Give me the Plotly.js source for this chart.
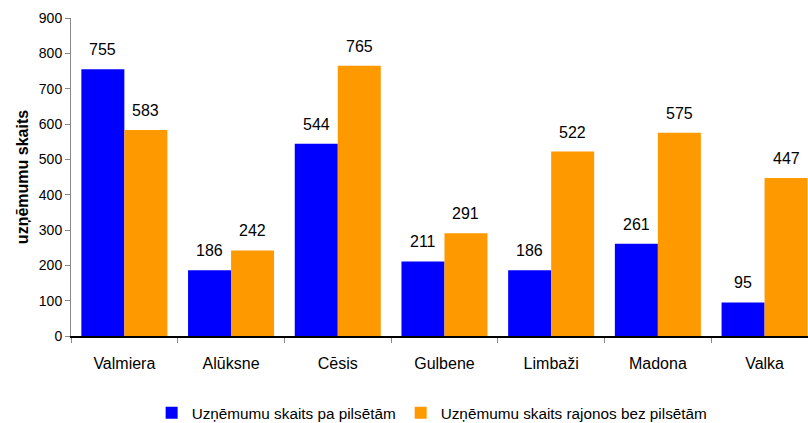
<!DOCTYPE html>
<html>
<head>
<meta charset="utf-8">
<script src="https://cdn.plot.ly/plotly-3.0.1.min.js"></script>
<style>html,body{margin:0;padding:0;background:#fff;}#chart{width:808px;height:423px;}</style>
</head>
<body>
<div id="chart"></div>
<script>
const categories = ["Valmiera", "Alūksne", "Cēsis", "Gulbene", "Limbaži", "Madona", "Valka"];
const cityValues = [755, 186, 544, 211, 186, 261, 95];
const ruralValues = [583, 242, 765, 291, 522, 575, 447];
const seriesNames = ["Uzņēmumu skaits pa pilsētām", "Uzņēmumu skaits rajonos bez pilsētām"];
const yTicks = [0, 100, 200, 300, 400, 500, 600, 700, 800, 900];

const font = "Liberation Sans, Arial, sans-serif";
const barHalf = 21.5;

const traces = [
  {type: "bar", name: seriesNames[0], x: categories, y: cityValues, marker: {color: "#0000FF"}, hoverinfo: "none"},
  {type: "bar", name: seriesNames[1], x: categories, y: ruralValues, marker: {color: "#FF9900"}, hoverinfo: "none"}
];

const annotations = [];
categories.forEach((c, i) => {
  annotations.push({x: c, y: cityValues[i], xref: "x", yref: "y", text: String(cityValues[i]), showarrow: false, xshift: -barHalf, yshift: 9, yanchor: "bottom", font: {family: font, size: 16, color: "#000"}});
  annotations.push({x: c, y: ruralValues[i], xref: "x", yref: "y", text: String(ruralValues[i]), showarrow: false, xshift: barHalf, yshift: 9, yanchor: "bottom", font: {family: font, size: 16, color: "#000"}});
});

const layout = {
  width: 808, height: 423,
  margin: {l: 71, r: 0, t: 18, b: 87, pad: 0},
  paper_bgcolor: "#fff", plot_bgcolor: "#fff",
  barmode: "group", bargap: 0.194, bargroupgap: 0,
  font: {family: font, size: 14, color: "#000"},
  showlegend: true,
  legend: {orientation: "h", x: 0.49, xref: "paper", xanchor: "center", yref: "container", y: 0.024, yanchor: "middle", font: {family: font, size: 15.3, color: "#000"}, itemwidth: 30, traceorder: "normal"},
  xaxis: {
    type: "category", range: [-0.5, 6.407], showgrid: false, zeroline: false,
    showline: true, linecolor: "#000", linewidth: 1.5,
    ticks: "outside", tickson: "boundaries", ticklen: 5, tickcolor: "#888",
    ticklabelstandoff: 12,
    tickfont: {family: font, size: 16, color: "#000"}, fixedrange: true
  },
  yaxis: {
    range: [0, 900], tickvals: yTicks, showgrid: false, zeroline: false,
    showline: true, linecolor: "#888", linewidth: 1,
    ticks: "outside", ticklen: 5, tickcolor: "#888",
    tickfont: {family: font, size: 14, color: "#000"},
    title: {text: "uzņēmumu skaits", font: {family: font, size: 16, color: "#000", weight: "bold"}, standoff: 6},
    fixedrange: true
  },
  annotations: annotations
};

Plotly.newPlot("chart", traces, layout, {displayModeBar: false, staticPlot: true});
</script>
</body>
</html>
